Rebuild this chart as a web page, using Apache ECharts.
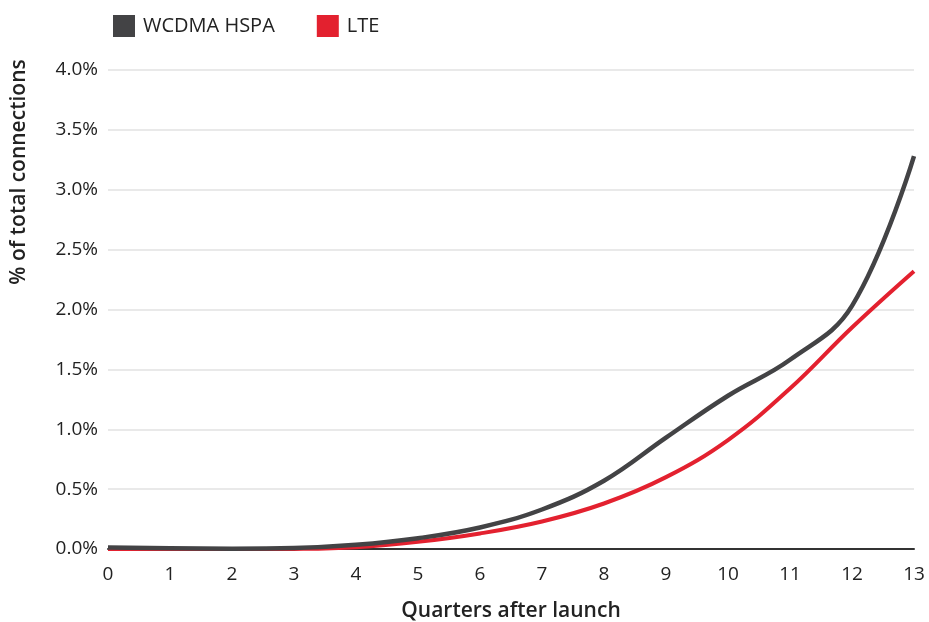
<!DOCTYPE html>
<html>
<head>
<meta charset="utf-8">
<script src="https://cdn.jsdelivr.net/npm/echarts@6/dist/echarts.min.js"></script>
<style>
  html, body { margin: 0; padding: 0; background: #fff; }
  #chart { width: 929px; height: 622px; }
</style>
</head>
<body>
<div id="chart"></div>
<script>
const quarters = [0, 1, 2, 3, 4, 5, 6, 7, 8, 9, 10, 11, 12, 13];
const wcdmaHspa = [0.012, 0.007, 0.003, 0.008, 0.035, 0.09, 0.18, 0.33, 0.57, 0.93, 1.28, 1.58, 2.03, 3.28];
const lte = [0.0, -0.002, -0.003, 0.0, 0.015, 0.06, 0.13, 0.23, 0.38, 0.6, 0.91, 1.34, 1.85, 2.32];
const yTicks = [0, 0.5, 1, 1.5, 2, 2.5, 3, 3.5, 4];
const seriesNames = ['WCDMA HSPA', 'LTE'];

const FONT = '"Open Sans", Lato, sans-serif';
const chart = echarts.init(document.getElementById('chart'), null, { renderer: 'canvas' });

chart.setOption({
  animation: false,
  color: ['#434345', '#e3212f'],
  legend: {
    left: 108, top: 10,
    itemWidth: 22, itemHeight: 22, itemGap: 42,
    icon: 'rect',
    textStyle: { fontFamily: FONT, fontSize: 20, color: '#222', padding: [0, 0, 0, 3] },
    data: seriesNames
  },
  grid: { left: 108, right: 15, top: 70, bottom: 73, outerBoundsMode: 'none' },
  xAxis: {
    type: 'value', min: 0, max: 13, interval: 1,
    name: 'Quarters after launch', nameLocation: 'middle', nameGap: 52,
    nameTextStyle: { fontFamily: FONT, fontSize: 21, fontWeight: 600, color: '#222' },
    axisLine: { show: true, onZero: false, lineStyle: { color: '#333', width: 2 } },
    axisTick: { show: false },
    splitLine: { show: false },
    axisLabel: { margin: 16, fontFamily: FONT, fontSize: 19, color: '#222' }
  },
  yAxis: {
    type: 'value', min: 0, max: 4, interval: 0.5,
    axisLine: { show: false },
    axisTick: { show: false },
    splitLine: { lineStyle: { color: '#e2e2e2', width: 1.5 } },
    axisLabel: {
      margin: 10, fontFamily: FONT, fontSize: 19, color: '#222',
      formatter: v => yTicks.includes(v) ? v.toFixed(1) + '%' : ''
    }
  },
  graphic: [{
    type: 'text',
    x: 9, y: 172,
    rotation: Math.PI / 2,
    style: {
      text: '% of total connections',
      font: '600 21px ' + FONT,
      fill: '#222',
      textAlign: 'center', textVerticalAlign: 'top'
    }
  }],
  series: [
    {
      name: seriesNames[0], type: 'line', smooth: 0.4, showSymbol: false,
      lineStyle: { width: 4.5 },
      data: quarters.map((q, i) => [q, wcdmaHspa[i]]),
      z: 3
    },
    {
      name: seriesNames[1], type: 'line', smooth: 0.4, showSymbol: false,
      lineStyle: { width: 4 },
      data: quarters.map((q, i) => [q, lte[i]]),
      z: 2
    }
  ]
});
</script>
</body>
</html>
